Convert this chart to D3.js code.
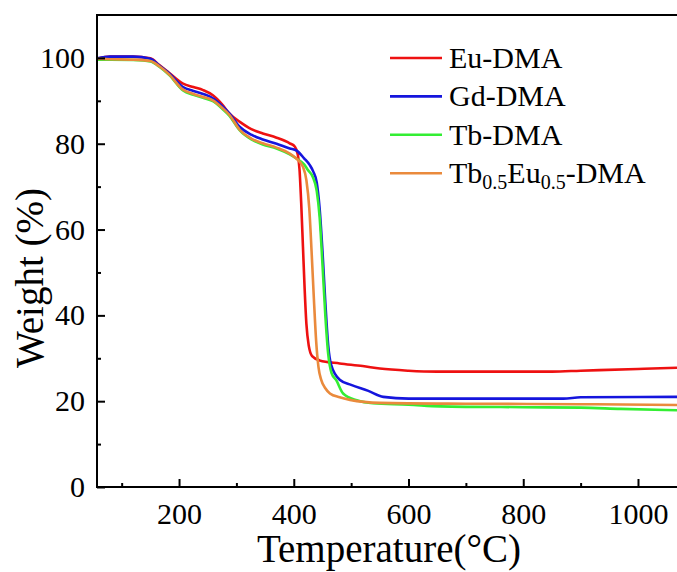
<!DOCTYPE html>
<html lang="en">
<head>
  <meta charset="UTF-8">
  <title>TGA curves</title>
  <style type="text/css">
    html, body { margin: 0; padding: 0; background: #fff; }
    svg { display: block; font-family: "Liberation Serif", "Times New Roman", serif; }
  </style>
</head>
<body>
<figure id="chart" style="margin:0"></figure>
<script src="https://cdn.jsdelivr.net/npm/d3@7"></script>
<script type="text/javascript">
  // series: temperature (°C) and weight (%)
  var seriesNames = ["Eu-DMA", "Gd-DMA", "Tb-DMA", "Tb0.5Eu0.5-DMA"];
  var seriesColors = ["#ee1111", "#1515dd", "#33ee33", "#ea8a3c"];

  var euTemp = [57, 80, 120, 150, 165, 183, 207, 225, 242, 259, 275, 288, 306, 326, 346, 370, 393,
    402, 407, 410, 413, 416, 419, 422, 426, 432, 445, 480, 520, 550, 600, 650, 750, 850, 900, 1000, 1068];
  var euWeight = [99.8, 100.3, 100.3, 99.9, 98.4, 96.5, 94.0, 93.2, 92.5, 91.3, 89.2, 87.0, 85.1, 83.4, 82.4, 81.4, 80.1,
    79.3, 77.5, 74, 66, 56, 46, 38, 33, 30.5, 29.5, 28.8, 28.2, 27.6, 27.1, 26.9, 26.9, 26.9, 27.1, 27.5, 27.8];

  var gdTemp = [57, 80, 120, 150, 165, 183, 207, 225, 242, 259, 275, 288, 306, 326, 346, 370, 393,
    405, 418, 428, 434, 440, 445, 450, 455, 460, 465, 480, 500, 530, 556, 600, 700, 870, 900, 1068];
  var gdWeight = [99.9, 100.3, 100.3, 99.8, 98.3, 96.4, 93.2, 92.3, 91.6, 90.6, 88.8, 87.0, 83.9, 82.1, 81.0, 80.0, 78.9,
    78.4, 76.6, 75.0, 73.5, 71, 65, 55, 43, 33, 28.5, 25, 23.8, 22.4, 21.0, 20.6, 20.6, 20.6, 20.9, 21.0];

  var tbTemp = [57, 80, 120, 150, 165, 183, 207, 225, 242, 259, 275, 288, 306, 326, 346, 370, 393,
    405, 418, 425, 433, 440, 445, 450, 455, 460, 466, 474, 486, 510, 538, 600, 655, 800, 900, 970, 1068];
  var tbWeight = [99.6, 99.6, 99.5, 99.2, 98.0, 96.0, 92.4, 91.4, 90.7, 89.9, 88.2, 86.5, 83.1, 81.0, 79.8, 78.9, 77.5,
    76.5, 75.2, 73.8, 72.3, 69, 63, 52, 40, 31, 26.5, 24.9, 21.8, 20.2, 19.5, 19.2, 18.8, 18.6, 18.5, 18.2, 17.9];

  var tbEuTemp = [57, 80, 120, 150, 165, 183, 207, 225, 242, 259, 275, 288, 306, 326, 346, 370, 393,
    405, 412, 416, 422, 427, 431, 435, 439, 443, 448, 455, 463, 480, 498, 550, 700, 900, 1068];
  var tbEuWeight = [99.8, 99.7, 99.6, 99.3, 98.1, 96.1, 92.6, 91.6, 90.9, 90.1, 88.4, 86.7, 83.2, 81.2, 80.1, 79.1, 77.7,
    76.5, 75.5, 74.6, 71.5, 65, 55, 44, 34, 28, 24.9, 23, 21.8, 20.9, 20.3, 19.6, 19.4, 19.3, 19.1];

  var xMajorTicks = [200, 400, 600, 800, 1000];
  var xMinorTicks = [100, 300, 500, 700, 900];
  var yMajorTicks = [0, 20, 40, 60, 80, 100];
  var yMinorTicks = [10, 30, 50, 70, 90];

  var width = 677, height = 572;
  var margin = { top: 15, right: 0, bottom: 85, left: 97 };

  var svg = d3.select("#chart").append("svg")
    .attr("width", width)
    .attr("height", height);

  var x = d3.scaleLinear().domain([57, 1068]).range([margin.left, width - margin.right]);
  var y = d3.scaleLinear().domain([0, 110]).range([height - margin.bottom - 0, margin.top]);
  // bottom of axis sits at y = 487
  y.range([487, 15]);

  var series = [
    { name: seriesNames[0], temp: euTemp, weight: euWeight },
    { name: seriesNames[1], temp: gdTemp, weight: gdWeight },
    { name: seriesNames[2], temp: tbTemp, weight: tbWeight },
    { name: seriesNames[3], temp: tbEuTemp, weight: tbEuWeight }
  ];

  svg.append("clipPath").attr("id", "plot-clip")
    .append("rect")
    .attr("x", x(57)).attr("y", y(110))
    .attr("width", x(1068) - x(57)).attr("height", y(0) - y(110));

  var line = d3.line()
    .x(function(d) { return x(d[0]); })
    .y(function(d) { return y(d[1]); })
    .curve(d3.curveMonotoneX);

  svg.append("g")
    .attr("clip-path", "url(#plot-clip)")
    .selectAll("path")
    .data(series)
    .join("path")
    .attr("fill", "none")
    .attr("stroke", function(d, i) { return seriesColors[i]; })
    .attr("stroke-width", 2.6)
    .attr("stroke-linejoin", "round")
    .attr("d", function(d) { return line(d.temp.map(function(t, i) { return [t, d.weight[i]]; })); });

  // frame: left, top, bottom (right side falls outside the picture)
  svg.append("path")
    .attr("fill", "none")
    .attr("stroke", "#000")
    .attr("stroke-width", 2)
    .attr("d", "M" + (width + 5) + "," + y(110) + "H" + x(57) + "V" + y(0) + "H" + (width + 5));

  // inward ticks
  var xAxis = d3.axisBottom(x).tickValues(xMajorTicks).tickSize(-8).tickPadding(16).tickFormat(d3.format("d"));
  var gx = svg.append("g").attr("transform", "translate(0," + y(0) + ")").call(xAxis);
  gx.select(".domain").remove();
  gx.selectAll(".tick line").attr("stroke", "#000").attr("stroke-width", 2);
  gx.selectAll(".tick text").attr("font-size", 30).attr("fill", "#000")
    .attr("font-family", "Liberation Serif, Times New Roman, serif");

  var gxm = svg.append("g").attr("transform", "translate(0," + y(0) + ")")
    .call(d3.axisBottom(x).tickValues(xMinorTicks).tickSize(-4).tickFormat(""));
  gxm.select(".domain").remove();
  gxm.selectAll(".tick line").attr("stroke", "#000").attr("stroke-width", 2);

  var yAxis = d3.axisLeft(y).tickValues(yMajorTicks).tickSize(-8).tickPadding(12).tickFormat(d3.format("d"));
  var gy = svg.append("g").attr("transform", "translate(" + x(57) + ",0)").call(yAxis);
  gy.select(".domain").remove();
  gy.selectAll(".tick line").attr("stroke", "#000").attr("stroke-width", 2);
  gy.selectAll(".tick text").attr("font-size", 30).attr("fill", "#000")
    .attr("font-family", "Liberation Serif, Times New Roman, serif");

  var gym = svg.append("g").attr("transform", "translate(" + x(57) + ",0)")
    .call(d3.axisLeft(y).tickValues(yMinorTicks).tickSize(-4).tickFormat(""));
  gym.select(".domain").remove();
  gym.selectAll(".tick line").attr("stroke", "#000").attr("stroke-width", 2);

  // axis titles
  svg.append("text")
    .attr("x", 389).attr("y", 562)
    .attr("text-anchor", "middle")
    .attr("font-size", 39)
    .text("Temperature(°C)");

  svg.append("text")
    .attr("transform", "translate(43,278) rotate(-90)")
    .attr("text-anchor", "middle")
    .attr("font-size", 39)
    .text("Weight (%)");

  // legend
  var legend = svg.append("g").attr("transform", "translate(390,58)");
  var rows = legend.selectAll("g").data(series).join("g")
    .attr("transform", function(d, i) { return "translate(0," + (i * 38.4) + ")"; });
  rows.append("line")
    .attr("x1", 0).attr("x2", 52)
    .attr("stroke", function(d, i) { return seriesColors[i]; })
    .attr("stroke-width", 2.6);
  rows.each(function(d, i) {
    var t = d3.select(this).append("text")
      .attr("x", 59).attr("y", 10)
      .attr("font-size", 30);
    if (i < 3) {
      t.text(d.name);
    } else {
      t.append("tspan").text("Tb");
      t.append("tspan").attr("font-size", 20).attr("dy", 6).text("0.5");
      t.append("tspan").attr("dy", -6).text("Eu");
      t.append("tspan").attr("font-size", 20).attr("dy", 6).text("0.5");
      t.append("tspan").attr("dy", -6).text("-DMA");
    }
  });
</script>
</body>
</html>
